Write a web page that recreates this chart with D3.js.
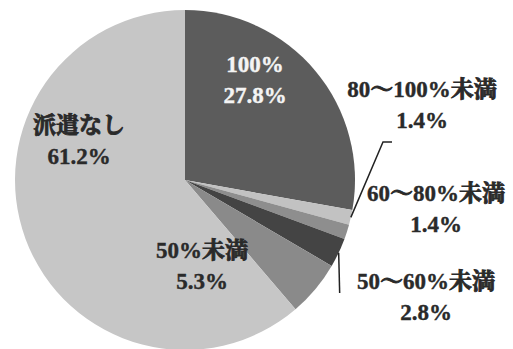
<!DOCTYPE html>
<html>
<head>
<meta charset="utf-8">
<script src="https://cdn.jsdelivr.net/npm/d3@7/dist/d3.min.js"></script>
<style>
  html, body { margin: 0; padding: 0; background: #fff; }
  svg { display: block; }
</style>
</head>
<body>
<svg id="chart" width="513" height="349"></svg>
<script>
// Slices, clockwise from 12 o'clock
const categories = ["100%", "80～100%未満", "60～80%未満", "50～60%未満", "50%未満", "派遣なし"];
const shares = [27.8, 1.4, 1.4, 2.8, 5.3, 61.2];
const shareLabels = ["27.8%", "1.4%", "1.4%", "2.8%", "5.3%", "61.2%"];
const fills = ["#5c5c5c", "#c2c2c2", "#8e8e8e", "#444444", "#8a8a8a", "#c6c6c6"];

// Label placement (centre of first line, text colour)
const labelLayout = [
  { x: 255, y: 64, color: "#f4f4f4" },
  { x: 422, y: 89, color: "#2a2a2a" },
  { x: 436, y: 193, color: "#2a2a2a" },
  { x: 426, y: 281, color: "#2a2a2a" },
  { x: 202, y: 250, color: "#2a2a2a" },
  { x: 79, y: 125, color: "#2a2a2a" }
];
const lineGap = 31;
const latinFont = '"Liberation Serif"';
const cjkFont = '"Noto Serif CJK JP"';

const cx = 185, cy = 180, radius = 170;
const svg = d3.select("#chart");
const g = svg.append("g").attr("transform", `translate(${cx},${cy})`);

const data = categories.map((c, i) => ({ name: c, value: shares[i], label: shareLabels[i], fill: fills[i], layout: labelLayout[i] }));

const pie = d3.pie().sort(null).value(d => d.value);
const arc = d3.arc().innerRadius(0).outerRadius(radius);
const arcs = pie(data);

g.selectAll("path.slice")
  .data(arcs)
  .join("path")
  .attr("class", "slice")
  .attr("d", arc)
  .attr("fill", d => d.data.fill);

// Leader lines for the two thin slices whose labels sit away from the rim
const edgePoint = a => {
  const ang = (a.startAngle + a.endAngle) / 2;
  return [Math.sin(ang) * radius, -Math.cos(ang) * radius];
};
const lineColor = "#222";
{
  const p = edgePoint(arcs[1]);
  g.append("path")
    .attr("d", d3.line()([[392 - cx, 142 - cy], [383 - cx, 142 - cy], p]))
    .attr("fill", "none").attr("stroke", lineColor).attr("stroke-width", 1.5);
}
{
  const p = edgePoint(arcs[3]);
  g.append("path")
    .attr("d", d3.line()([p, [p[0] + 1, 293 - cy]]))
    .attr("fill", "none").attr("stroke", lineColor).attr("stroke-width", 1.5);
}

// Split a string into runs of full-width and half-width characters
const splitRuns = s => s.match(/[\u3000-\u9fff\uff00-\uffef]+|[^\u3000-\u9fff\uff00-\uffef]+/g) || [];
const isWide = s => /[\u3000-\u9fff\uff00-\uffef]/.test(s);

const labels = svg.selectAll("g.lbl")
  .data(data)
  .join("g")
  .attr("class", "lbl")
  .attr("transform", d => `translate(${d.layout.x},${d.layout.y})`);

[d => d.name, d => d.label].forEach((txt, k) => {
  const t = labels.append("text")
    .attr("text-anchor", "middle")
    .attr("y", 8 + k * lineGap)
    .style("font-weight", "bold")
    .style("font-size", "23px")
    .attr("fill", d => d.layout.color)
    .attr("stroke", d => d.layout.color)
    .attr("stroke-width", 0.5);
  t.selectAll("tspan")
    .data(d => splitRuns(txt(d)))
    .join("tspan")
    .style("font-family", s => isWide(s) ? cjkFont : latinFont)
    .attr("stroke-width", s => isWide(s) ? 0.9 : 0.4)
    .text(s => s);
});
</script>
</body>
</html>
